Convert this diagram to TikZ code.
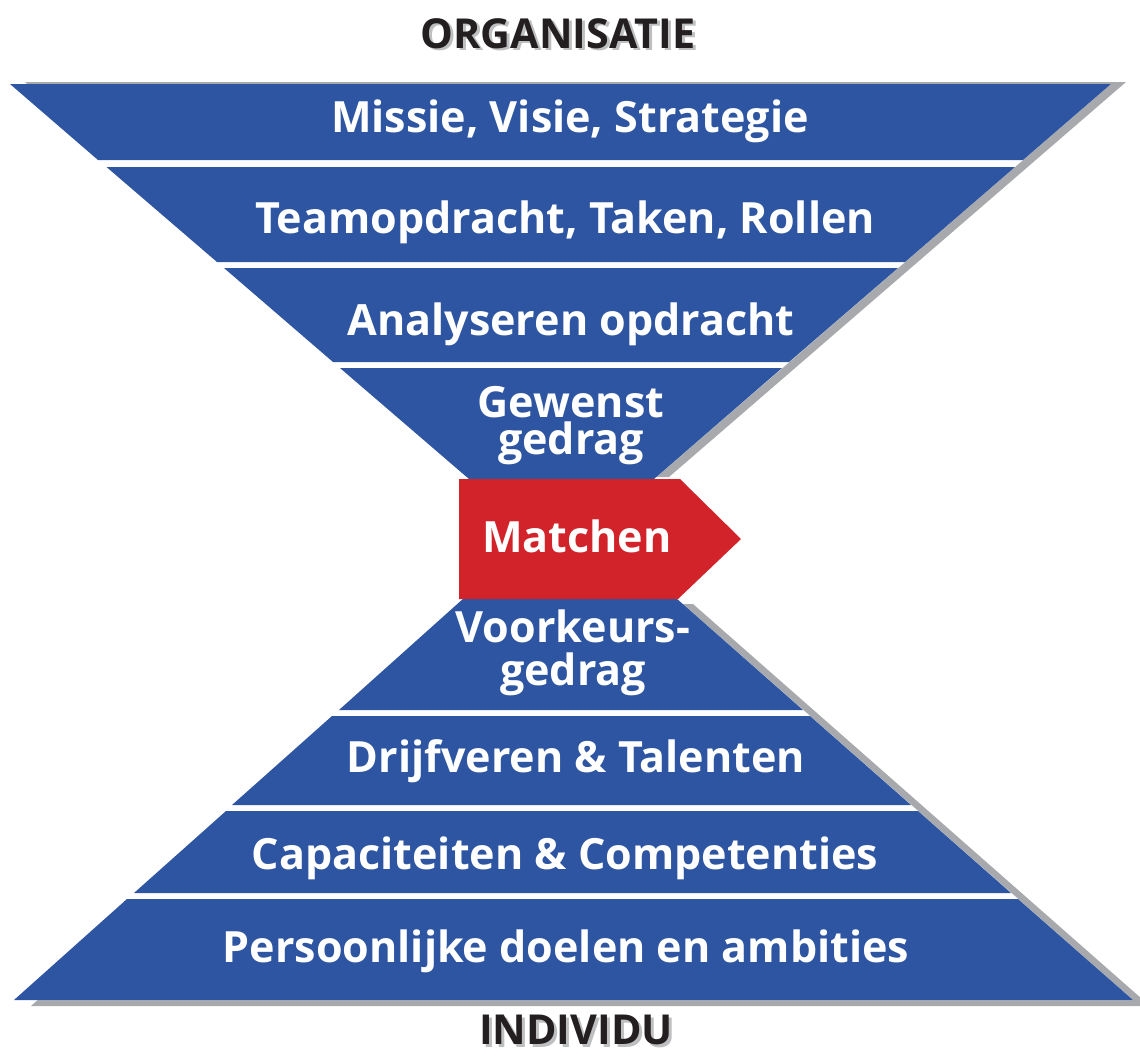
\documentclass[tikz,border=0pt]{standalone}
\usepackage{fontspec}
\setmainfont{Open Sans}
\usetikzlibrary{positioning}

\definecolor{bandblue}{RGB}{46,85,161}
\definecolor{matchred}{RGB}{210,35,42}
\definecolor{shadowgray}{RGB}{167,169,172}
\definecolor{titlegray}{RGB}{190,191,193}
\definecolor{titleblack}{RGB}{35,31,32}

% title with its grey drop shadow
\newcommand{\shadowtext}[1]{\makebox[0pt][l]{\kern1.7pt\raisebox{-1.7pt}{\textcolor{titlegray}{#1}}}#1}

\tikzset{
  band/.style={fill=bandblue,draw=none},
  bandshadow/.style={fill=shadowgray,draw=none},
  bandtext/.style={text=white,font=\fontsize{24.5}{21}\selectfont\bfseries,anchor=base,inner sep=0pt,align=center},
  titletext/.style={text=titleblack,font=\fontsize{23.5}{26}\selectfont\bfseries,anchor=base,inner sep=0pt},
}

\begin{document}
\begin{tikzpicture}[x=0.02cm,y=-0.02cm]
  \useasboundingbox (0,0) rectangle (1140,1052);

  % shadows behind the two funnels
  \fill[bandshadow] (25,82) -- (1126,82) -- (669,477) -- (484,477) -- cycle;
  \fill[white] (10,84) -- (1111,84) -- (654,479) -- (469,479) -- cycle;
  \fill[bandshadow] (481,604) -- (693,604) -- (1150,1006) -- (31,1006) -- cycle;
  \fill[white] (464,598) -- (676,598) -- (1133,1000) -- (14,1000) -- cycle;

  % organisatie side
  \fill[band] (10,84) -- (1111,84) -- (1023,160) -- (98,160) -- cycle;
  \fill[band] (106.5,167) -- (1015,167) -- (905,262) -- (217,262) -- cycle;
  \fill[band] (224,268) -- (898,268) -- (789,362) -- (333,362) -- cycle;
  \fill[band] (340,368) -- (782,368) -- (654,479) -- (469,479) -- cycle;

  % individu side
  \fill[band] (464,598) -- (676,598) -- (803,710) -- (339,710) -- cycle;
  \fill[band] (332,716) -- (810,716) -- (911,805) -- (232,805) -- cycle;
  \fill[band] (226,811) -- (918,811) -- (1011,893) -- (134,893) -- cycle;
  \fill[band] (127,899) -- (1018,899) -- (1133,1000) -- (14,1000) -- cycle;

  % matchen arrow
  \fill[matchred] (459,479) -- (680,479) -- (741,539) -- (678,599) -- (459,599) -- cycle;

  \node (org) at (558,48) [titletext] {\shadowtext{ORGANISATIE}};

  \node (band_0) at (570,132) [bandtext] {Missie, Visie, Strategie};
  \node (band_1) at (565,233) [bandtext] {Teamopdracht, Taken, Rollen};
  \node (band_2) at (571,335) [bandtext] {Analyseren opdracht};
  \node (band_3) at (571,454) [bandtext] {Gewenst\\gedrag};
  \node (match) at (577,552) [bandtext] {Matchen};
  \node (band_4) at (573,685) [bandtext,font=\fontsize{24.5}{24}\selectfont\bfseries] {Voorkeurs-\\gedrag};
  \node (band_5) at (576,772) [bandtext] {Drijfveren \& Talenten};
  \node (band_6) at (565,869) [bandtext] {Capaciteiten \& Competenties};
  \node (band_7) at (566,962) [bandtext] {Persoonlijke doelen en ambities};

  \node (ind) at (576,1044) [titletext] {\shadowtext{INDIVIDU}};
%
\end{tikzpicture}
\end{document}
